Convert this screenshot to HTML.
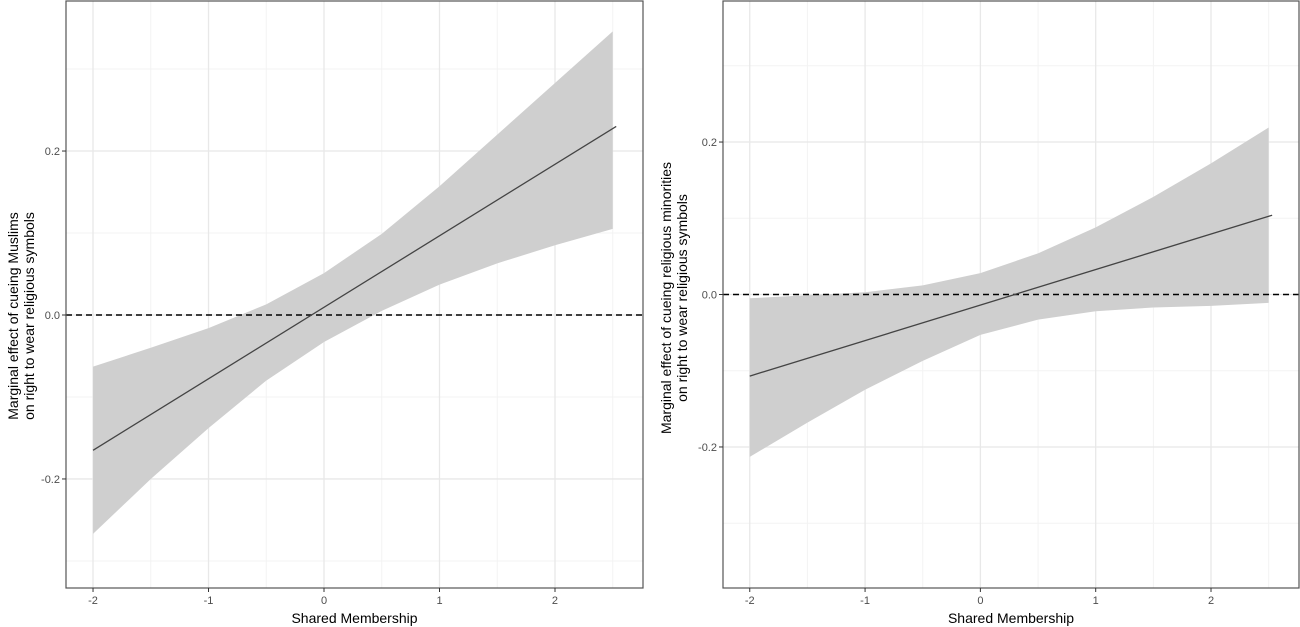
<!DOCTYPE html>
<html><head><meta charset="utf-8"><style>
html,body{margin:0;padding:0;background:#fff;}
svg{display:block;font-family:"Liberation Sans",Arial,sans-serif;}
</style></head><body>
<svg id="fig" width="1300" height="627" viewBox="0 0 1300 627" xmlns="http://www.w3.org/2000/svg"></svg>
<script>
const xGrid = [-2, -1.5, -1, -0.5, 0, 0.5, 1, 1.5, 2, 2.5];
const xTicks = [-2, -1, 0, 1, 2];
const xMinor = [-1.5, -0.5, 0.5, 1.5, 2.5];
const yTicks = [-0.2, 0.0, 0.2];
const yTickLabels = ["-0.2", "0.0", "0.2"];
const yMinor = [-0.3, -0.1, 0.1, 0.3];
const lineX = [-2, 2.53];
const leftLineY = [-0.165, 0.230];
const leftLower = [-0.267, -0.200, -0.138, -0.080, -0.033, 0.005, 0.037, 0.063, 0.085, 0.105];
const leftUpper = [-0.063, -0.040, -0.016, 0.013, 0.051, 0.099, 0.157, 0.220, 0.283, 0.346];
const rightLineY = [-0.107, 0.104];
const rightLower = [-0.213, -0.168, -0.125, -0.087, -0.053, -0.033, -0.022, -0.017, -0.015, -0.011];
const rightUpper = [-0.005, -0.001, 0.003, 0.012, 0.028, 0.054, 0.088, 0.128, 0.172, 0.219];

const NS = "http://www.w3.org/2000/svg";
const svg = document.getElementById("fig");
function mk(tag, attrs, parent) {
  const e = document.createElementNS(NS, tag);
  for (const k in attrs) e.setAttribute(k, attrs[k]);
  (parent || svg).appendChild(e);
  return e;
}

function panel(cfg) {
  const g = mk("g", {});
  
  
  const L = cfg.left, R = cfg.right, T = 1, B = 588;
  const xs = v => L + (v - cfg.xmin) / (cfg.xmax - cfg.xmin) * (R - L);
  const ys = v => T + (cfg.ymax - v) / (cfg.ymax - cfg.ymin) * (B - T);
  // minor grid
  xMinor.forEach(v => {
    const l = mk("line", {x1: xs(v), x2: xs(v), y1: T, y2: B, stroke: "#f3f3f3", "stroke-width": 1}, g);
    
    
  });
  yMinor.forEach(v => {
    const l = mk("line", {x1: L, x2: R, y1: ys(v), y2: ys(v), stroke: "#f3f3f3", "stroke-width": 1}, g);
    
    
  });
  xTicks.forEach(v => {
    const l = mk("line", {x1: xs(v), x2: xs(v), y1: T, y2: B, stroke: "#e8e8e8", "stroke-width": 1.3}, g);
    
    
  });
  yTicks.forEach(v => {
    const l = mk("line", {x1: L, x2: R, y1: ys(v), y2: ys(v), stroke: "#e8e8e8", "stroke-width": 1.3}, g);
    
    
  });
  // band
  let d = "";
  xGrid.forEach((v, i) => { d += (i ? "L" : "M") + xs(v) + "," + ys(cfg.upper[i]); });
  for (let i = xGrid.length - 1; i >= 0; i--) d += "L" + xs(xGrid[i]) + "," + ys(cfg.lower[i]);
  const band = mk("path", {d: d + "Z", fill: "#cfcfcf"}, g);
  
  
  // zero dashed
  const z = mk("line", {x1: L, x2: R, y1: ys(0), y2: ys(0), stroke: "#000", "stroke-width": 1.5, "stroke-dasharray": "6,4"}, g);
  
  
  // effect line
  const ln = mk("line", {x1: xs(lineX[0]), y1: ys(cfg.lineY[0]), x2: xs(lineX[1]), y2: ys(cfg.lineY[1]), stroke: "#444", "stroke-width": 1.3}, g);
  
  
  // border
  const br = mk("rect", {x: L, y: T, width: R - L, height: B - T, fill: "none", stroke: "#555", "stroke-width": 1.2}, g);
  
  
  // ticks
  xTicks.forEach(v => {
    const t = mk("line", {x1: xs(v), x2: xs(v), y1: B, y2: B + 4, stroke: "#333", "stroke-width": 1}, g);
    
    
    const tx = mk("text", {x: xs(v), y: B + 16, "text-anchor": "middle", "font-size": 11, fill: "#4d4d4d"}, g);
    tx.textContent = String(v);
    
    
  });
  yTicks.forEach((v, i) => {
    const t = mk("line", {x1: L - 4, x2: L, y1: ys(v), y2: ys(v), stroke: "#333", "stroke-width": 1}, g);
    
    
    const tx = mk("text", {x: L - 6, y: ys(v) + 4, "text-anchor": "end", "font-size": 11, fill: "#4d4d4d"}, g);
    tx.textContent = yTickLabels[i];
    
    
  });
  const xt = mk("text", {x: (L + R) / 2, y: 623, "text-anchor": "middle", "font-size": 14, fill: "#000"}, g);
  xt.textContent = "Shared Membership";
  
  
  const yt = mk("text", {transform: "translate(" + cfg.titleX + "," + cfg.titleY + ") rotate(-90)", "text-anchor": "middle", "font-size": 14, fill: "#000"}, g);
  
  
  cfg.title.forEach((s, i) => {
    const ts = mk("tspan", {x: 0, dy: i ? 16 : 0}, yt);
    ts.textContent = s;
  });
}

panel({name: "left-panel-muslims", left: 66, right: 643, xmin: -2.234, xmax: 2.762, ymin: -0.333, ymax: 0.383,
  lineY: leftLineY, lower: leftLower, upper: leftUpper, titleX: 18, titleY: 316,
  title: ["Marginal effect of cueing Muslims", "on right to wear religious symbols"]});
panel({name: "right-panel-minorities", left: 723, right: 1299, xmin: -2.232, xmax: 2.763, ymin: -0.385, ymax: 0.385,
  lineY: rightLineY, lower: rightLower, upper: rightUpper, titleX: 671, titleY: 298,
  title: ["Marginal effect of cueing religious minorities", "on right to wear religious symbols"]});
</script>
</body></html>
